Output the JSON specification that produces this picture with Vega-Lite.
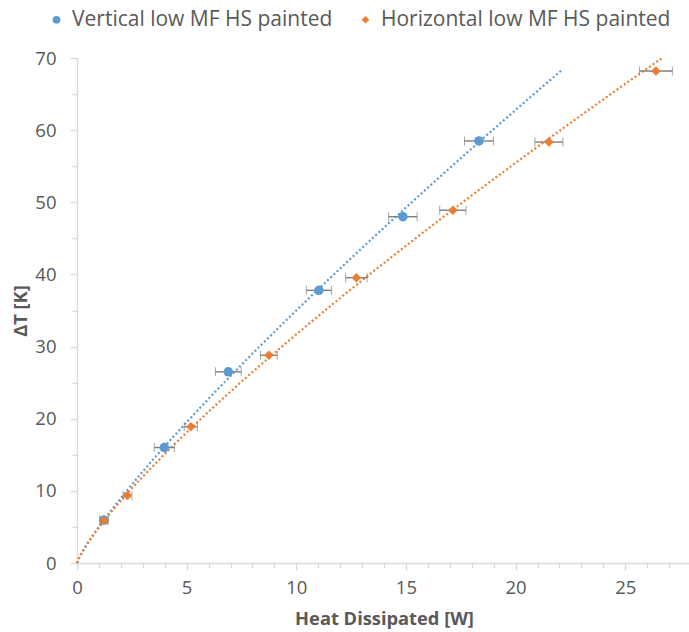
{
  "$schema": "https://vega.github.io/schema/vega-lite/v6.json",
  "width": 614,
  "height": 505,
  "autosize": "none",
  "padding": {"left": 77, "top": 58, "right": 0, "bottom": 69},
  "background": "white",
  "config": {
    "view": {"stroke": null},
    "font": "Open Sans",
    "axis": {
      "grid": false,
      "domainColor": "#d9d9d9",
      "domainWidth": 1.3,
      "tickColor": "#d9d9d9",
      "tickWidth": 1.3,
      "labelColor": "#595959",
      "labelFontSize": 18.5,
      "labelFont": "Open Sans",
      "labelFlush": false,
      "labelOverlap": false,
      "titleColor": "#595959",
      "titleFontSize": 18.3,
      "titleFont": "Open Sans",
      "titleFontWeight": "bold"
    }
  },
  "data": {
    "values": [
      {"series": "Vertical low MF HS painted", "x": 1.23, "y": 5.95, "err": 0.2},
      {"series": "Vertical low MF HS painted", "x": 3.98, "y": 16.0, "err": 0.46},
      {"series": "Vertical low MF HS painted", "x": 6.9, "y": 26.5, "err": 0.59},
      {"series": "Vertical low MF HS painted", "x": 11.03, "y": 37.8, "err": 0.57},
      {"series": "Vertical low MF HS painted", "x": 14.86, "y": 48.0, "err": 0.65},
      {"series": "Vertical low MF HS painted", "x": 18.33, "y": 58.5, "err": 0.66},
      {"series": "Horizontal low MF HS painted", "x": 1.23, "y": 5.9, "err": 0.15},
      {"series": "Horizontal low MF HS painted", "x": 2.3, "y": 9.35, "err": 0.2},
      {"series": "Horizontal low MF HS painted", "x": 5.19, "y": 18.9, "err": 0.3},
      {"series": "Horizontal low MF HS painted", "x": 8.75, "y": 28.8, "err": 0.38},
      {"series": "Horizontal low MF HS painted", "x": 12.74, "y": 39.55, "err": 0.49},
      {"series": "Horizontal low MF HS painted", "x": 17.14, "y": 48.9, "err": 0.6},
      {"series": "Horizontal low MF HS painted", "x": 21.52, "y": 58.35, "err": 0.64},
      {"series": "Horizontal low MF HS painted", "x": 26.4, "y": 68.2, "err": 0.75}
    ]
  },
  "encoding": {
    "x": {
      "field": "x", "type": "quantitative",
      "scale": {"domain": [0, 28], "nice": false},
      "axis": {
        "title": "Heat Dissipated [W]",
        "values": [0,1,2,3,4,5,6,7,8,9,10,11,12,13,14,15,16,17,18,19,20,21,22,23,24,25,26,27,28],
        "labelExpr": "datum.value % 5 === 0 ? datum.label : ''",
        "tickSize": {"condition": {"test": "datum.value % 5 === 0", "value": 7}, "value": 5},
        "labelPadding": 8,
        "titlePadding": 14
      }
    },
    "y": {
      "field": "y", "type": "quantitative",
      "scale": {"domain": [0, 70], "nice": false},
      "axis": {
        "title": "ΔT [K]",
        "values": [0,5,10,15,20,25,30,35,40,45,50,55,60,65,70],
        "labelExpr": "datum.value % 10 === 0 ? datum.label : ''",
        "tickSize": {"condition": {"test": "datum.value % 10 === 0", "value": 7}, "value": 5},
        "labelPadding": 14,
        "titlePadding": 4
      }
    }
  },
  "layer": [
    {
      "transform": [
        {"filter": "datum.series === 'Vertical low MF HS painted'"},
        {"regression": "y", "on": "x", "method": "pow", "extent": [0, 22.1]}
      ],
      "mark": {"type": "line", "color": "#5B9BD5", "strokeWidth": 2.2, "strokeDash": [2, 2.4]},
      "encoding": {}
    },
    {
      "transform": [
        {"filter": "datum.series === 'Horizontal low MF HS painted'"},
        {"regression": "y", "on": "x", "method": "pow", "extent": [0, 26.65]}
      ],
      "mark": {"type": "line", "color": "#ED7D31", "strokeWidth": 2.2, "strokeDash": [2, 2.4]},
      "encoding": {}
    },
    {
      "mark": {"type": "errorbar", "ticks": {"size": 9, "color": "#7f7f7f", "strokeWidth": 1.4}, "rule": {"color": "#7f7f7f", "strokeWidth": 1.4}},
      "encoding": {
        "xError": {"field": "err"}
      }
    },
    {
      "mark": {"type": "point", "filled": true, "opacity": 1},
      "encoding": {
        "color": {
          "field": "series", "type": "nominal",
          "scale": {"domain": ["Vertical low MF HS painted", "Horizontal low MF HS painted"], "range": ["#5B9BD5", "#ED7D31"]},
          "legend": {
            "title": null,
            "orient": "none",
            "legendX": -31,
            "legendY": -49,
            "direction": "horizontal",
            "columns": 2,
            "columnPadding": 22,
            "labelFontSize": 21,
            "labelFont": "Open Sans",
            "labelColor": "#595959",
            "labelLimit": 0,
            "symbolSize": 60,
            "labelOffset": 5
          }
        },
        "shape": {
          "field": "series", "type": "nominal",
          "scale": {"domain": ["Vertical low MF HS painted", "Horizontal low MF HS painted"], "range": ["circle", "diamond"]},
          "legend": null
        },
        "size": {"value": 90}
      }
    }
  ]
}
